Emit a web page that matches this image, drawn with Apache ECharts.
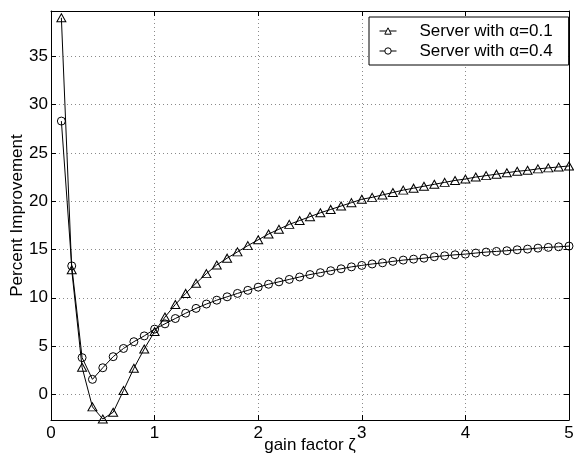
<!DOCTYPE html>
<html>
<head>
<meta charset="utf-8">
<script src="https://cdn.jsdelivr.net/npm/echarts@6/dist/echarts.min.js"></script>
<style>
html,body{margin:0;padding:0;background:#fff;}
#chart{width:574px;height:461px;}
</style>
</head>
<body>
<div id="chart"></div>
<script>
const gainFactor = [0.1,0.2,0.3,0.4,0.5,0.6,0.7,0.8,0.9,1.0,
  1.1,1.2,1.3,1.4,1.5,1.6,1.7,1.8,1.9,2.0,
  2.1,2.2,2.3,2.4,2.5,2.6,2.7,2.8,2.9,3.0,
  3.1,3.2,3.3,3.4,3.5,3.6,3.7,3.8,3.9,4.0,
  4.1,4.2,4.3,4.4,4.5,4.6,4.7,4.8,4.9,5.0];
const alpha01 = [39.0,12.9,2.8,-1.3,-2.56,-1.86,0.4,2.7,4.7,6.5,
  8.0,9.3,10.45,11.5,12.5,13.4,14.1,14.75,15.4,16.0,
  16.6,17.1,17.6,18.0,18.4,18.8,19.15,19.5,19.85,20.2,
  20.4,20.65,20.9,21.15,21.35,21.55,21.75,21.95,22.15,22.3,
  22.5,22.65,22.8,22.95,23.1,23.2,23.35,23.45,23.55,23.65];
const alpha04 = [28.3,13.3,3.8,1.55,2.75,3.9,4.75,5.45,6.05,6.75,
  7.3,7.85,8.4,8.9,9.35,9.75,10.1,10.45,10.77,11.1,
  11.4,11.65,11.9,12.15,12.4,12.6,12.8,13.0,13.2,13.35,
  13.5,13.62,13.77,13.9,14.0,14.1,14.25,14.35,14.45,14.52,
  14.63,14.73,14.8,14.87,14.97,15.04,15.14,15.22,15.28,15.35];
const seriesNames = ['Server with \u03B1=0.1','Server with \u03B1=0.4'];
const xTicks = [0,1,2,3,4,5];
const yTicks = [0,5,10,15,20,25,30,35];

const FONT = 'Liberation Sans, Arial, Helvetica, sans-serif';
const FS = 17;
const pair = (ys) => gainFactor.map((x,i)=>[x, ys[i]]);
const gridLine = {show:true, lineStyle:{color:'#8a8a8a', width:1, type:[1,3]}};

const chart = echarts.init(document.getElementById('chart'), null, {renderer:'canvas'});
chart.setOption({
  animation:false,
  backgroundColor:'#fff',
  grid:{left:51, right:5, top:11, bottom:41, containLabel:false, outerBoundsMode:'none'},
  legend:{
    left:369, top:17,
    orient:'vertical',
    backgroundColor:'#fff', borderColor:'#000', borderWidth:1, borderRadius:0,
    padding:[5,16,5,10],
    itemWidth:17, itemHeight:8, itemGap:2,
    itemStyle:{color:'#fff', borderColor:'#000', borderWidth:1},
    lineStyle:{color:'#000', width:1},
    textStyle:{fontFamily:FONT, fontSize:FS, color:'#000', padding:[0,0,0,18], lineHeight:18},
    data:seriesNames
  },
  xAxis:[{
    type:'value', min:0, max:5, interval:1, position:'bottom',
    axisLine:{show:true, onZero:false, lineStyle:{color:'#000', width:1}},
    axisTick:{show:true, inside:true, length:5, lineStyle:{color:'#000'}},
    axisLabel:{fontFamily:FONT, fontSize:FS, color:'#000', margin:5,
      formatter:(v)=> xTicks.includes(v) ? String(v) : ''},
    splitLine:gridLine,
    name:'gain factor \u03B6', nameLocation:'middle', nameGap:17, nameMoveOverlap:false,
    nameTextStyle:{fontFamily:FONT, fontSize:FS, color:'#000', verticalAlign:'top'}
  },{
    type:'value', min:0, max:5, interval:1, position:'top',
    axisLine:{show:true, onZero:false, lineStyle:{color:'#000', width:1}},
    axisTick:{show:true, inside:true, length:5, lineStyle:{color:'#000'}},
    axisLabel:{show:false}, splitLine:{show:false}
  }],
  yAxis:[{
    type:'value', min:-2.66, max:39.7, minInterval:5, maxInterval:5, splitNumber:8,
    position:'left',
    axisLine:{show:true, onZero:false, lineStyle:{color:'#000', width:1}},
    axisTick:{show:true, inside:true, length:5, lineStyle:{color:'#000'}},
    axisLabel:{fontFamily:FONT, fontSize:FS, color:'#000', margin:3,
      showMinLabel:false, showMaxLabel:false,
      formatter:(v)=> yTicks.includes(v) ? String(v) : ''},
    splitLine:gridLine,
    name:'Percent Improvement', nameLocation:'middle', nameGap:25, nameMoveOverlap:false,
    nameTextStyle:{fontFamily:FONT, fontSize:FS, color:'#000'}
  },{
    type:'value', min:-2.66, max:39.7, minInterval:5, maxInterval:5, splitNumber:8,
    position:'right',
    axisLine:{show:true, onZero:false, lineStyle:{color:'#000', width:1}},
    axisTick:{show:true, inside:true, length:5, lineStyle:{color:'#000'}},
    axisLabel:{show:false}, splitLine:{show:false}
  }],
  series:[{
    name:seriesNames[0], type:'line', xAxisIndex:0, yAxisIndex:0,
    data:pair(alpha01),
    symbol:'triangle', symbolSize:[9,8], showAllSymbol:true,
    lineStyle:{color:'#000', width:1},
    itemStyle:{color:'rgba(0,0,0,0)', borderColor:'#000', borderWidth:1}
  },{
    name:seriesNames[1], type:'line', xAxisIndex:0, yAxisIndex:0,
    data:pair(alpha04),
    symbol:'circle', symbolSize:8, showAllSymbol:true,
    lineStyle:{color:'#000', width:1},
    itemStyle:{color:'rgba(0,0,0,0)', borderColor:'#000', borderWidth:1}
  }]
});
</script>
</body>
</html>
